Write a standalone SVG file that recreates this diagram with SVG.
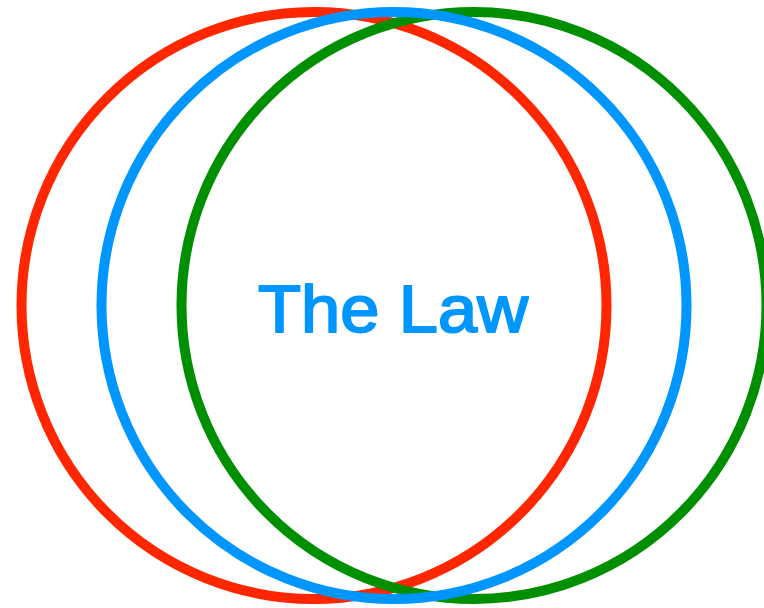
<svg xmlns="http://www.w3.org/2000/svg" width="764" height="608" viewBox="0 0 764 608">
<style>
.c{fill:none;stroke-width:10}
.t{font-family:"Liberation Sans",Arial,Helvetica,sans-serif;font-size:67px;fill:#0096FF;stroke:#0096FF;stroke-width:2;stroke-linejoin:round;text-anchor:middle}
</style>
<rect width="764" height="608" fill="#fff"/>
<g id="red"><ellipse class="c" cx="314" cy="305.5" rx="292.5" ry="293.5" stroke="#FF2600"/></g>
<g id="green"><ellipse class="c" cx="474" cy="305.5" rx="292.5" ry="293.5" stroke="#008F00"/></g>
<g id="blue"><ellipse class="c" cx="394" cy="305.5" rx="292.5" ry="293.5" stroke="#0096FF"/></g>
<g id="label"><text class="t" x="393" y="331.5" textLength="270" lengthAdjust="spacingAndGlyphs">The Law</text></g>
</svg>
